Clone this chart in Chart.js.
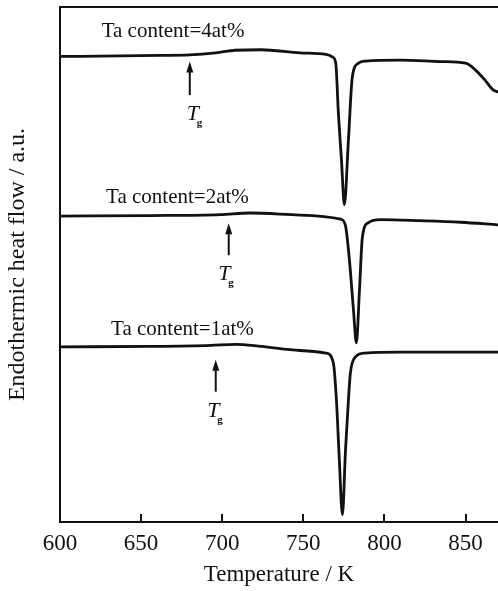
<!DOCTYPE html>
<html>
<head>
<meta charset="utf-8">
<script src="https://cdn.jsdelivr.net/npm/chart.js@4/dist/chart.umd.min.js"></script>
<style>
  html, body { margin: 0; padding: 0; background: #fff; }
  #wrap { width: 498px; height: 591px; }
</style>
</head>
<body>
<div id="wrap"><canvas id="dsc"></canvas></div>
<script>
// === DSC curves, temperature (K) vs heat flow (a.u.) ===
const temp4 = [600, 637, 662, 680, 696, 708, 724, 748, 764, 768, 770, 771.6, 773.5, 775.3, 777.8, 780.2, 784, 788.3, 810, 835, 850, 856, 862, 867, 870];
const flow4 = [90.4, 90.5, 90.6, 90.7, 91.1, 91.6, 91.7, 91.1, 90.8, 90.3, 89.1, 79.4, 70.3, 61.6, 74.2, 86.4, 89.1, 89.5, 89.7, 89.4, 89.1, 87.8, 85.8, 83.9, 83.5];

const temp2 = [600, 656, 699, 717, 748, 773, 776, 778.4, 780.9, 782.7, 784.6, 786.4, 790, 797.5, 822, 847, 870];
const flow2 = [59.4, 59.5, 59.7, 60.0, 59.6, 58.8, 57.5, 50.9, 41.2, 34.8, 45.0, 55.3, 58.1, 58.7, 58.5, 58.2, 57.7];

const temp1 = [600, 656, 693, 708, 724, 748, 764, 768.5, 770.4, 772.2, 774.1, 776, 777.8, 779, 782, 788, 810, 870];
const flow1 = [34.0, 34.1, 34.3, 34.5, 34.1, 33.3, 32.8, 30.9, 23.7, 12.0, 1.4, 14.0, 23.7, 28.9, 32.0, 32.8, 33.0, 33.0];

const seriesLabels = ["Ta content=4at%", "Ta content=2at%", "Ta content=1at%"];
const tgTemps = [680, 704, 696];
const xTicks = [600, 650, 700, 750, 800, 850];

const FONT = '"Liberation Serif", "Times New Roman", serif';
const INK = "#111";

function pts(xs, ys) {
  return xs.map((x, i) => ({ x: x, y: ys[i] }));
}

// where the labels and Tg arrows sit (K, a.u.)
const labelPos = [
  { x: 625.7, y: 94.2 },
  { x: 628.4, y: 62.0 },
  { x: 631.5, y: 36.4 }
];
const arrowPos = [
  { tip: 89.4, tail: 82.9, tx: 678.2, ty: 78.1 },
  { tip: 58.0, tail: 51.8, tx: 697.5, ty: 47.0 },
  { tip: 31.5, tail: 25.3, tx: 690.7, ty: 20.4 }
];

const decor = {
  id: "decor",
  afterDraw(chart) {
    const ctx = chart.ctx;
    const xs = chart.scales.x, ys = chart.scales.y;
    const area = chart.chartArea;
    ctx.save();
    ctx.strokeStyle = INK;
    ctx.fillStyle = INK;

    // top frame line
    ctx.lineWidth = 2;
    ctx.beginPath();
    ctx.moveTo(area.left - 1, area.top);
    ctx.lineTo(area.right, area.top);
    ctx.stroke();

    // inward ticks on the temperature axis
    xTicks.forEach(t => {
      const px = Math.round(xs.getPixelForValue(t));
      ctx.beginPath();
      ctx.moveTo(px, area.bottom);
      ctx.lineTo(px, area.bottom - 8);
      ctx.stroke();
    });

    // curve labels
    ctx.font = "21px " + FONT;
    ctx.textBaseline = "alphabetic";
    ctx.textAlign = "left";
    seriesLabels.forEach((s, i) => {
      ctx.fillText(s, xs.getPixelForValue(labelPos[i].x), ys.getPixelForValue(labelPos[i].y));
    });

    // Tg arrows
    tgTemps.forEach((t, i) => {
      const a = arrowPos[i];
      const px = xs.getPixelForValue(t);
      const yTip = ys.getPixelForValue(a.tip);
      const yTail = ys.getPixelForValue(a.tail);
      ctx.lineWidth = 2;
      ctx.beginPath();
      ctx.moveTo(px, yTail);
      ctx.lineTo(px, yTip + 6);
      ctx.stroke();
      ctx.beginPath();
      ctx.moveTo(px, yTip);
      ctx.lineTo(px - 3.5, yTip + 11);
      ctx.lineTo(px + 3.5, yTip + 11);
      ctx.closePath();
      ctx.fill();

      const tx = xs.getPixelForValue(a.tx);
      const ty = ys.getPixelForValue(a.ty);
      ctx.font = "italic 22px " + FONT;
      ctx.fillText("T", tx, ty);
      ctx.font = "bold 11px " + FONT;
      ctx.fillText("g", tx + 10, ty + 6);
    });
    ctx.restore();
  }
};

const lineStyle = {
  borderColor: INK,
  borderWidth: 2.8,
  borderJoinStyle: "round",
  borderCapStyle: "round",
  pointRadius: 0,
  fill: false,
  cubicInterpolationMode: "monotone"
};

new Chart(document.getElementById("dsc"), {
  type: "line",
  data: {
    datasets: [
      Object.assign({ label: seriesLabels[0], data: pts(temp4, flow4) }, lineStyle),
      Object.assign({ label: seriesLabels[1], data: pts(temp2, flow2) }, lineStyle),
      Object.assign({ label: seriesLabels[2], data: pts(temp1, flow1) }, lineStyle)
    ]
  },
  options: {
    responsive: true,
    maintainAspectRatio: false,
    animation: false,
    devicePixelRatio: 1,
    layout: { padding: { top: 7, right: 0, left: 0, bottom: 0 } },
    plugins: { legend: { display: false }, tooltip: { enabled: false } },
    scales: {
      x: {
        type: "linear",
        min: 600,
        max: 870,
        afterFit: s => { s.height = 69; },
        afterBuildTicks: s => { s.ticks = xTicks.map(v => ({ value: v })); },
        grid: { display: false, drawTicks: false },
        border: { display: true, color: INK, width: 2 },
        ticks: { color: INK, padding: 8, maxRotation: 0, font: { family: FONT, size: 23 } },
        title: {
          display: true,
          text: "Temperature / K",
          color: INK,
          padding: { top: 0, bottom: 2 },
          font: { family: FONT, size: 23 }
        }
      },
      y: {
        min: 0,
        max: 100,
        afterFit: s => { s.width = 60; },
        grid: { display: false, drawTicks: false },
        border: { display: true, color: INK, width: 2 },
        ticks: { display: false },
        title: {
          display: true,
          text: "Endothermic heat flow / a.u.",
          color: INK,
          padding: { top: 3, bottom: 0 },
          font: { family: FONT, size: 24 }
        }
      }
    }
  },
  plugins: [decor]
});
</script>
</body>
</html>
